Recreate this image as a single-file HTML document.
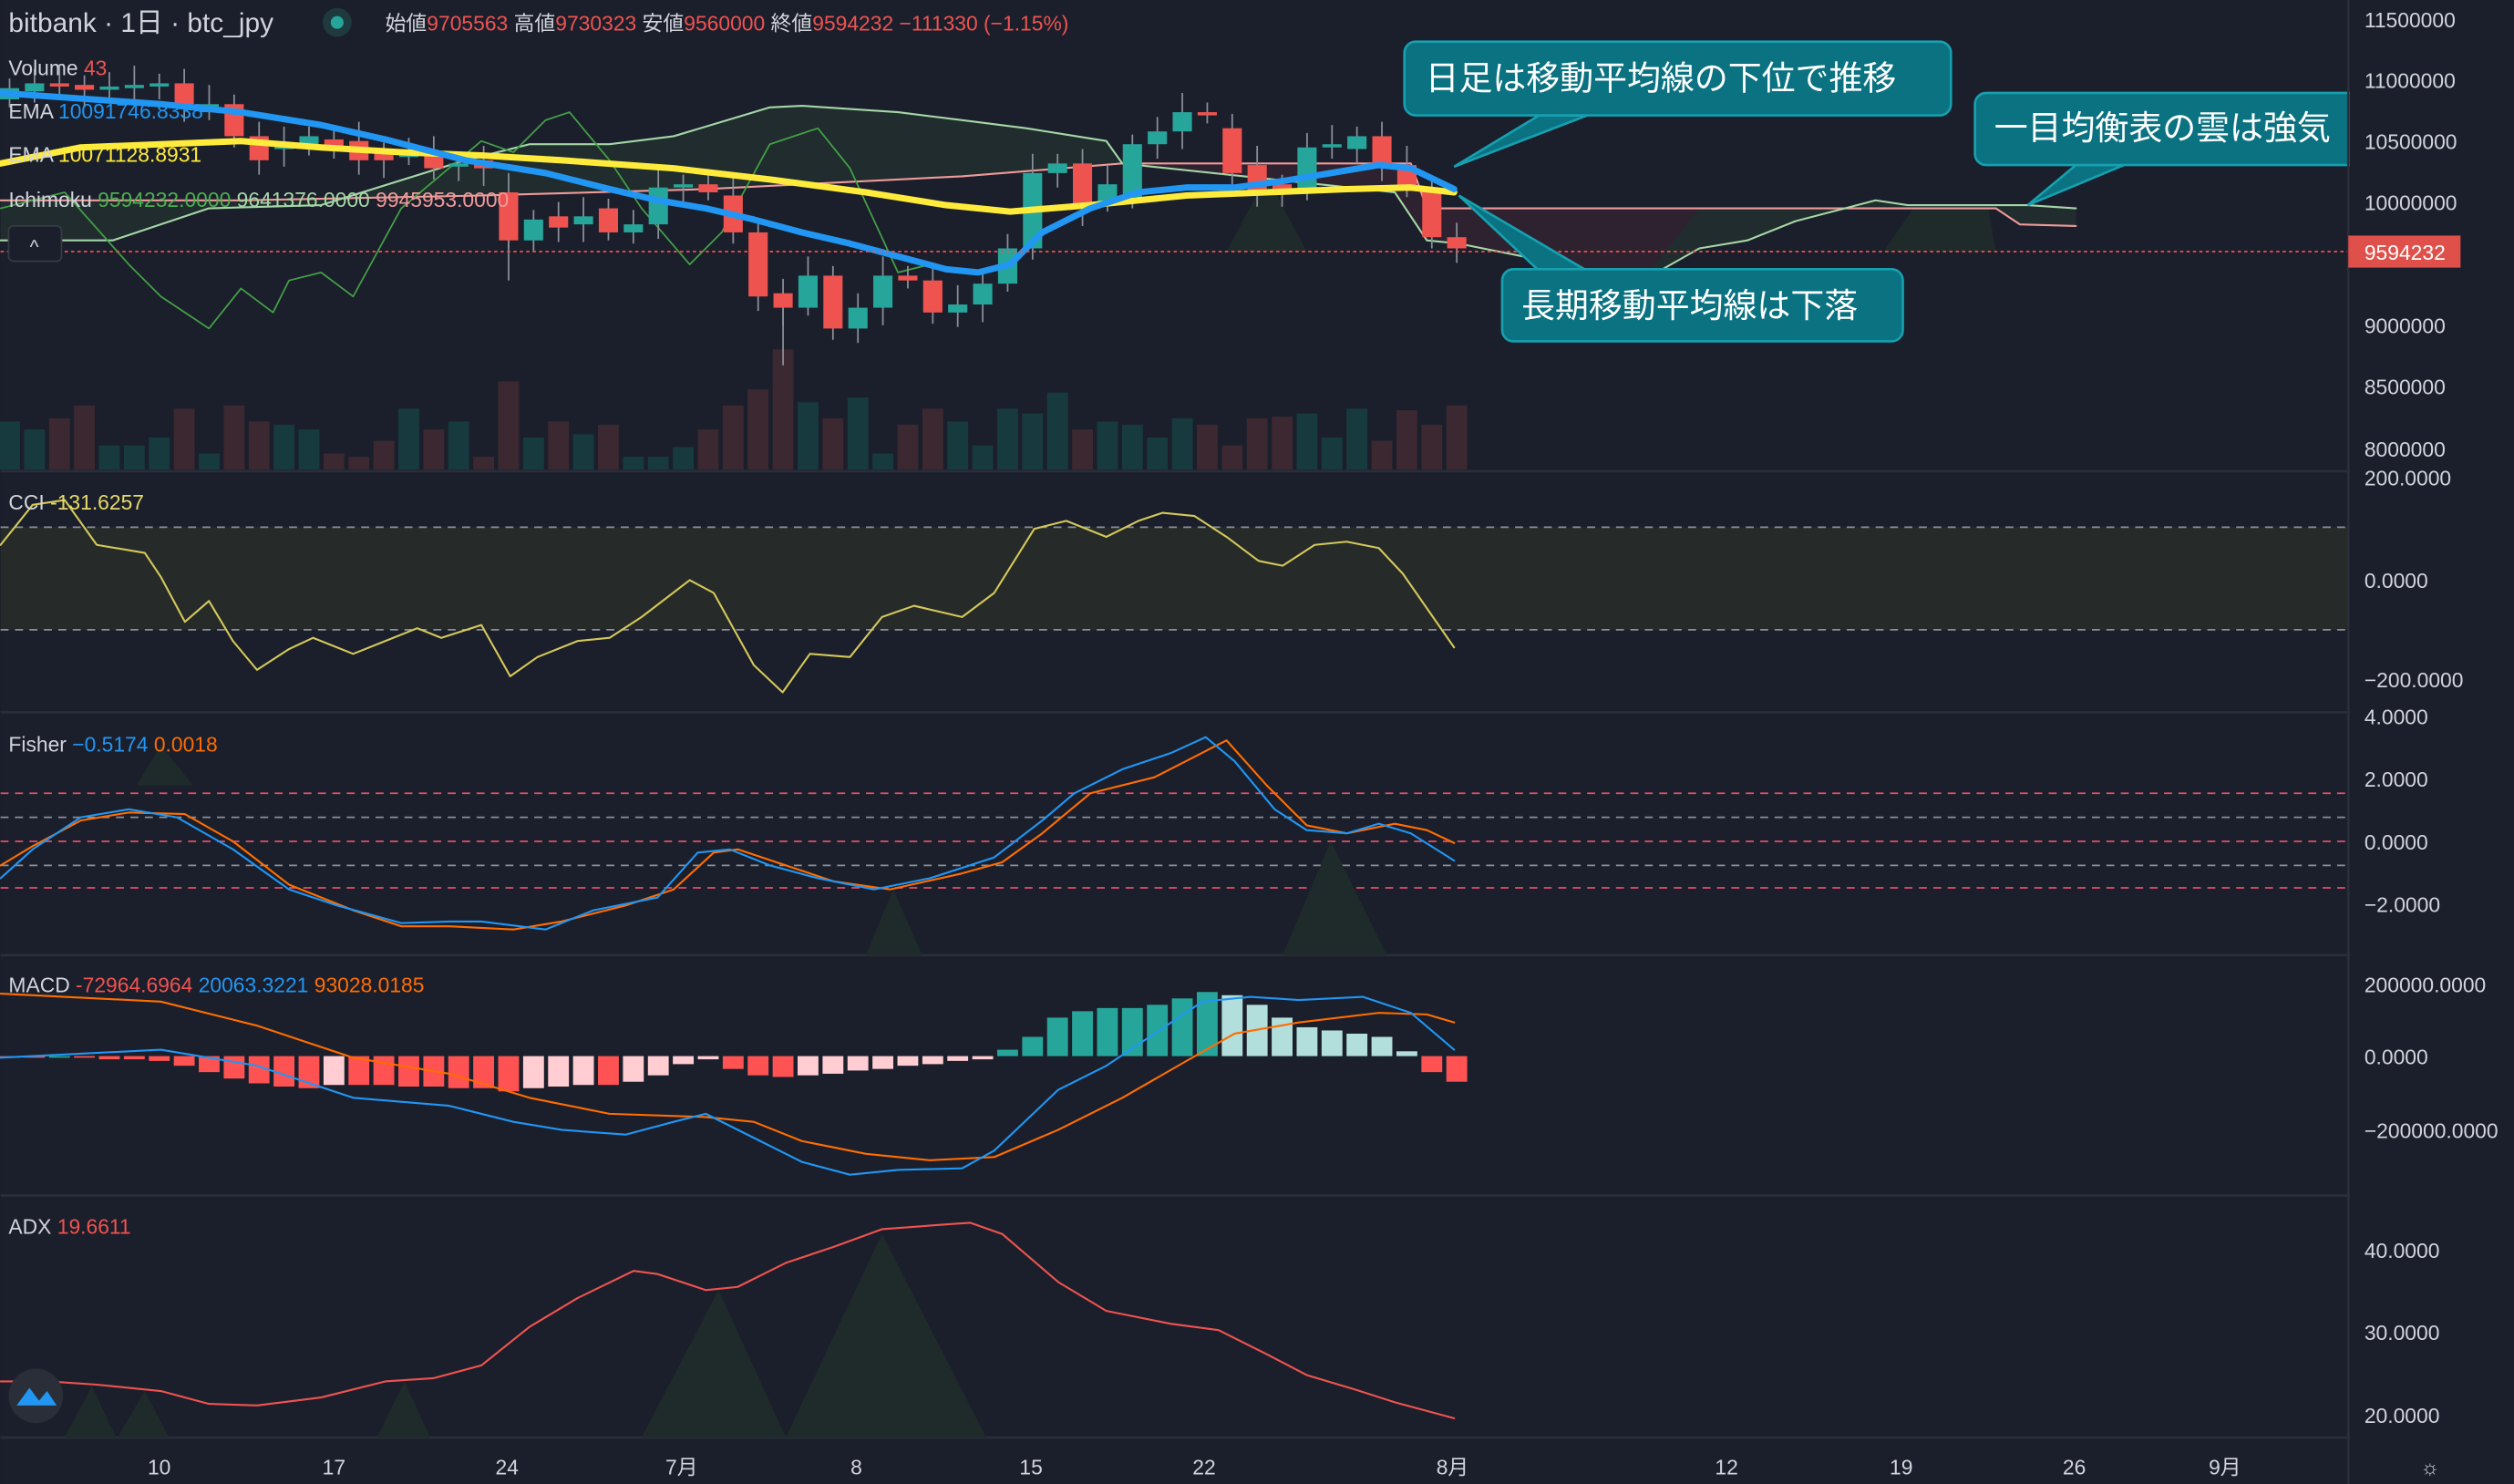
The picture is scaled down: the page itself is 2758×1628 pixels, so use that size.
<!DOCTYPE html>
<html><head><meta charset="utf-8">
<style>
html,body{margin:0;padding:0;background:#1b1f2b;}
svg{display:block;}
text{font-family:"Liberation Sans","Noto Sans CJK JP",sans-serif;}
</style></head>
<body>
<svg id="s" width="2758" height="1628" viewBox="0 0 1568 926" xmlns="http://www.w3.org/2000/svg">
<rect width="1568" height="926" fill="#1b1f2b"/>
<g stroke="#2a2e39" stroke-width="1.5">
<line x1="0" y1="294" x2="1568" y2="294"/>
<line x1="0" y1="444.5" x2="1568" y2="444.5"/>
<line x1="0" y1="596" x2="1568" y2="596"/>
<line x1="0" y1="746" x2="1568" y2="746"/>
<line x1="0" y1="897" x2="1568" y2="897"/>
<line x1="1465" y1="0" x2="1465" y2="926"/>
</g>
<rect x="0" y="329" width="1465" height="64" fill="#262b2a"/>
<g stroke="#8a8f99" stroke-width="1" stroke-dasharray="5,4">
<line x1="0" y1="329" x2="1465" y2="329"/><line x1="0" y1="393" x2="1465" y2="393"/>
<line x1="0" y1="510" x2="1465" y2="510"/><line x1="0" y1="540" x2="1465" y2="540"/>
</g>
<g stroke="#e0506a" stroke-width="1" stroke-dasharray="5,4">
<line x1="0" y1="495" x2="1465" y2="495"/><line x1="0" y1="525" x2="1465" y2="525"/><line x1="0" y1="554" x2="1465" y2="554"/>
</g>
<g fill="#1f2b2a">
<polygon points="400,897 448,805 490,897"/><polygon points="490,897 550,770 615,897"/>
<polygon points="40,897 57,865 72,897"/><polygon points="73,897 90,868 105,897"/><polygon points="235,897 252,862 268,897"/>
<polygon points="540,596 557,555 575,596"/><polygon points="800,596 830,525 865,596"/><polygon points="85,490 100,465 120,490"/>
<polygon points="765,157 790,110 815,157"/><polygon points="1175,157 1195,128 1240,128 1245,157"/>
</g>
<g id="main"></g>
<line x1="0" y1="157" x2="1465" y2="157" stroke="#ef5350" stroke-width="1" stroke-dasharray="2,2"/>
<g fill="#0a7281" stroke="#16a0b0" stroke-width="1.5">
<polygon points="960,72 990,72 907,104"/>
<rect x="876" y="26" width="341" height="46" rx="7"/>
<polygon points="1295,103 1325,103 1265,128"/>
<rect x="1232" y="58" width="245" height="45" rx="7"/>
<polygon points="910,122 960,169 990,169"/>
<rect x="937" y="168" width="250" height="45" rx="7"/>
</g>
<g fill="#ffffff" font-size="21">
<text x="889" y="56">日足は移動平均線の下位で推移</text>
<text x="1244" y="87">一目均衡表の雲は強気</text>
<text x="949" y="198">長期移動平均線は下落</text>
</g>
<rect x="1466" y="0" width="102" height="926" fill="#1b1f2b"/>
<line x1="1465" y1="0" x2="1465" y2="926" stroke="#2a2e39" stroke-width="1.5"/>
<g fill="#d1d4dc" font-size="13">
<text x="1475" y="17">11500000</text><text x="1475" y="55">11000000</text><text x="1475" y="93">10500000</text>
<text x="1475" y="131">10000000</text><text x="1475" y="208">9000000</text><text x="1475" y="246">8500000</text><text x="1475" y="285">8000000</text>
<text x="1475" y="303">200.0000</text><text x="1475" y="367">0.0000</text><text x="1475" y="429">−200.0000</text>
<text x="1475" y="452">4.0000</text><text x="1475" y="491">2.0000</text><text x="1475" y="530">0.0000</text><text x="1475" y="569">−2.0000</text>
<text x="1475" y="619">200000.0000</text><text x="1475" y="664">0.0000</text><text x="1475" y="710">−200000.0000</text>
<text x="1475" y="785">40.0000</text><text x="1475" y="836">30.0000</text><text x="1475" y="888">20.0000</text>
</g>
<rect x="1465" y="147" width="70" height="20" fill="#e0504a"/>
<text x="1475" y="162" fill="#ffffff" font-size="13">9594232</text>
<g fill="#d1d4dc" font-size="13" text-anchor="middle">
<text x="99" y="920">10</text><text x="208" y="920">17</text><text x="316" y="920">24</text><text x="425" y="920">7月</text>
<text x="534" y="920">8</text><text x="643" y="920">15</text><text x="751" y="920">22</text><text x="906" y="920">8月</text>
<text x="1077" y="920">12</text><text x="1186" y="920">19</text><text x="1294" y="920">26</text><text x="1388" y="920">9月</text>
<text x="1516" y="920">☼</text>
</g>
<text x="5" y="20" fill="#d1d4dc" font-size="17">bitbank · 1日 · btc_jpy</text>
<circle cx="210" cy="14" r="9" fill="#1e3a3e"/><circle cx="210" cy="14" r="4" fill="#26a69a"/>
<text x="240" y="19" font-size="13" fill="#d1d4dc">始値<tspan fill="#ef5350">9705563</tspan> 高値<tspan fill="#ef5350">9730323</tspan> 安値<tspan fill="#ef5350">9560000</tspan> 終値<tspan fill="#ef5350">9594232 −111330 (−1.15%)</tspan></text>
<g font-size="13" fill="#d1d4dc">
<text x="5" y="47">Volume <tspan fill="#ef5350">43</tspan></text>
<text x="5" y="74">EMA <tspan fill="#2196f3">10091746.8338</tspan></text>
<text x="5" y="101">EMA <tspan fill="#ffeb3b">10071128.8931</tspan></text>
<text x="5" y="129">Ichimoku <tspan fill="#4caf50">9594232.0000</tspan> <tspan fill="#a5d6a7">9641376.0000</tspan> <tspan fill="#ef9a9a">9945953.0000</tspan></text>
<text x="5" y="318">CCI <tspan fill="#e6d96a">-131.6257</tspan></text>
<text x="5" y="469">Fisher <tspan fill="#2196f3">−0.5174</tspan> <tspan fill="#ff6d00">0.0018</tspan></text>
<text x="5" y="619">MACD <tspan fill="#ef5350">-72964.6964</tspan> <tspan fill="#2196f3">20063.3221</tspan> <tspan fill="#ff6d00">93028.0185</tspan></text>
<text x="5" y="770">ADX <tspan fill="#ef5350">19.6611</tspan></text>
</g>
<rect x="5" y="141" width="33" height="22" rx="3" fill="#1b1f2b" stroke="#363a45"/>
<text x="21" y="158" fill="#d1d4dc" font-size="12" text-anchor="middle">^</text>
<circle cx="22" cy="871" r="17" fill="#2a2e39"/>
<path d="M10,877 L18,866 L24,874 L29,868 L35,877 Z" fill="#2196f3"/>
</svg>
<script>
const NS="http://www.w3.org/2000/svg";
const main=document.getElementById('main');
function el(t,a,p){const e=document.createElementNS(NS,t);for(const k in a)e.setAttribute(k,a[k]);(p||main).appendChild(e);return e;}
function pl(pts,c,w,fill){return el('polyline',{points:pts.map(p=>p.join(',')).join(' '),fill:fill||'none',stroke:c,'stroke-width':w,'stroke-linejoin':'round','stroke-linecap':'round'});}
const X=i=>5.6+i*15.57;
const oc=[[62,55],[57,52],[52,53],[53,56],[56,54],[55,53],[53,52],[52,65],[70,65],[65,85],[85,100],[93,91],[92,85],[87,92],[88,100],[95,100],[98,95],[97,105],[104,102],[100,105],[120,150],[150,137],[135,142],[140,135],[130,145],[145,140],[140,117],[117,115],[115,120],[122,145],[145,185],[183,192],[192,172],[172,205],[205,192],[192,172],[172,175],[175,195],[195,190],[190,177],[177,155],[155,108],[108,102],[102,130],[127,115],[123,90],[90,82],[82,70],[70,72],[80,108],[103,120],[115,118],[120,92],[92,90],[93,85],[85,102],[103,118],[118,148],[148,155]];
const vol=[30,25,32,40,15,15,20,38,10,40,30,28,25,10,8,18,38,25,30,8,55,20,30,22,28,8,8,14,25,40,50,75,42,32,45,10,28,38,30,15,38,35,48,25,30,28,20,32,28,15,32,33,35,20,38,18,37,28,40,5];
vol.forEach((v,i)=>{if(i<59){const up=oc[i][1]<oc[i][0];el('rect',{x:X(i)-6.5,y:293-v,width:13,height:v,fill:up?'#173a3f':'#3b2830'});}});
const A=[[0,150],[70,150],[130,130],[200,128],[290,100],[330,90],[380,90],[420,85],[480,67],[500,66],[560,70],[600,75],[640,80],[690,88],[700,102],[870,120],[890,150],[910,152],[950,160],[1000,172],[1030,172],[1060,155],[1090,150],[1120,138],[1170,125],[1190,128],[1265,128],[1295,130]];
const B=[[0,125],[150,125],[300,122],[440,118],[600,110],[700,102],[880,102],[890,130],[1245,130],[1260,140],[1295,141]];
el('polygon',{points:A.concat(B.slice().reverse()).map(p=>p.join(',')).join(' '),fill:'#212d2d',opacity:0.9});
el('polygon',{points:'700,102 880,102 890,130 1060,130 1030,168 1000,170 950,160 910,152 890,150 870,120',fill:'#2e2230'});
pl(B,'#ef9a9a',1.2);pl(A,'#a5d6a7',1.2);
pl([[0,130],[40,120],[80,165],[100,185],[130,205],[150,180],[170,195],[180,175],[200,170],[220,185],[250,130],[300,88],[320,95],[340,75],[355,70],[380,100],[400,130],[430,165],[450,145],[480,90],[510,80],[530,105],[560,170],[580,165]],'#43a047',1);
oc.forEach((c,i)=>{const x=X(i),up=c[1]<c[0],col=up?'#26a69a':'#ef5350';const t=Math.min(c[0],c[1]),b=Math.max(c[0],c[1]);
el('line',{x1:x,x2:x,y1:t-6-(i%3)*3,y2:b+5+(i%4)*2,stroke:'#8a8f99','stroke-width':1});
el('rect',{x:x-6,y:t,width:12,height:Math.max(b-t,2),fill:col});});
el('line',{x1:X(20),x2:X(20),y1:150,y2:175,stroke:'#8a8f99'});el('line',{x1:X(31),x2:X(31),y1:192,y2:228,stroke:'#8a8f99'});
pl([[0,102],[50,92],[100,90],[150,88],[200,92],[250,95],[300,97],[350,100],[420,105],[480,112],[540,120],[590,128],[630,132],[680,128],[740,122],[790,120],[840,118],[880,117],[907,120]],'#ffeb3b',4);
pl([[0,58],[100,65],[150,70],[200,78],[240,87],[290,100],[340,108],[380,118],[410,125],[440,130],[470,137],[500,145],[530,152],[560,160],[590,168],[610,170],[630,165],[650,145],[680,130],[710,120],[740,117],[770,117],[800,113],[830,108],[860,103],[880,105],[907,118]],'#2196f3',4);
pl([[0,340],[20,315],[40,312],[60,340],[90,345],[100,360],[115,388],[130,375],[145,400],[160,418],[180,405],[195,398],[220,408],[240,400],[260,392],[275,398],[300,390],[318,422],[335,410],[360,400],[380,398],[400,385],[430,362],[445,370],[470,415],[488,432],[505,408],[530,410],[550,385],[570,378],[600,385],[620,370],[645,330],[665,325],[690,335],[710,325],[725,320],[745,322],[765,335],[785,350],[800,353],[820,340],[840,338],[860,342],[875,358],[907,404]],'#d4c85a',1.2);
pl([[0,540],[20,528],[50,512],[80,507],[115,508],[145,525],[180,552],[220,568],[250,578],[280,578],[320,580],[350,575],[390,565],[420,555],[445,532],[460,530],[490,540],[520,550],[555,555],[600,545],[625,538],[650,520],[680,495],[720,485],[765,462],[790,490],[815,515],[840,520],[870,514],[890,518],[907,526]],'#ff6d00',1.2);
pl([[0,548],[20,530],[50,510],[80,505],[110,510],[145,530],[180,555],[210,565],[250,576],[280,575],[300,575],[340,580],[370,568],[410,560],[435,532],[455,530],[480,540],[510,548],[545,555],[580,548],[620,535],[650,512],[670,495],[700,480],[730,470],[752,460],[770,475],[795,505],[815,518],[840,520],[860,514],[880,520],[907,537]],'#2196f3',1.2);
const hh=[-1,-1,0,-1,-2,-2,-3,-6,-10,-14,-17,-19,-20,-18,-18,-18,-19,-19,-20,-20,-22,-20,-19,-18,-18,-16,-12,-5,-2,-8,-12,-13,-12,-11,-9,-8,-6,-5,-3,-2,4,12,24,28,30,30,32,36,40,38,32,24,18,16,14,12,3,-10,-16];
hh.forEach((v,i)=>{const p=i?hh[i-1]:0;let col;if(v>=0)col=v>=p?'#26a69a':'#b2dfdb';else col=v<=p?'#ff5252':'#ffcdd2';
el('rect',{x:X(i)-6.5,y:v>=0?659-v:659,width:13,height:Math.max(Math.abs(v),1),fill:col});});
pl([[0,620],[100,625],[160,640],[220,660],[280,670],[330,685],[380,695],[440,697],[470,700],[500,712],[540,720],[580,724],[620,722],[660,705],[700,685],[740,662],[770,645],[810,638],[860,632],[890,633],[907,638]],'#ff6d00',1.2);
pl([[0,660],[100,655],[160,665],[220,685],[280,690],[320,700],[350,705],[390,708],[420,700],[440,695],[470,710],[500,725],[530,733],[560,730],[600,729],[620,718],[660,680],[690,665],[720,645],[750,625],[780,622],[810,624],[850,622],[880,632],[907,655]],'#2196f3',1.2);
pl([[0,862],[30,862],[60,864],[100,868],[130,876],[160,877],[200,872],[240,862],[270,860],[300,852],[330,828],[360,810],[395,793],[410,795],[440,805],[460,803],[490,788],[520,778],[550,767],[590,764],[605,763],[625,770],[660,800],[690,818],[730,826],[760,830],[790,845],[815,858],[845,867],[870,875],[907,885]],'#ef5350',1.2);
</script>
</body></html>
